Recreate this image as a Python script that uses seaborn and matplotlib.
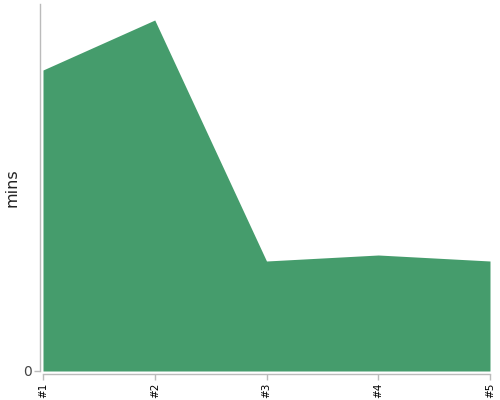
import numpy as np
import pandas as pd
import seaborn as sns
import matplotlib.pyplot as plt

labels = ["#1", "#2", "#3", "#4", "#5"]
mins = [301, 351, 110, 116, 110]

sns.set_theme(style="white")
plt.rcParams['font.family'] = ['DejaVu Sans']

df = pd.DataFrame({"run": labels, "mins": mins})
x = np.arange(len(labels))

fig = plt.figure(figsize=(5, 4), dpi=100)
ax = fig.add_axes([0.086, 0.0725, 0.894, 0.9175])
sns.lineplot(x=x, y=df["mins"], ax=ax, color="#459c6c", linewidth=0)
ax.fill_between(x, df["mins"], color="#459c6c", linewidth=0)

ax.set_xlim(0, len(labels) - 1)
ax.set_ylim(0, 367)
ax.set_xticks(x, labels)
ax.set_yticks([0], ["0"])
ax.set_ylabel("mins", fontsize=11.5, color="#222222")
ax.yaxis.set_label_coords(-0.052, 0.5)
ax.set_xlabel("")

for side in ["top", "right"]:
    ax.spines[side].set_visible(False)
for side in ["left", "bottom"]:
    ax.spines[side].set_color("#bbbbbb")
    ax.spines[side].set_linewidth(1)
    ax.spines[side].set_position(("outward", 2.2))
ax.tick_params(axis="both", which="both", length=4, width=1, color="#bbbbbb", pad=2,
               left=True, bottom=True)
ax.tick_params(axis="x", labelrotation=90, labelsize=7.5, labelcolor="#000000")
ax.tick_params(axis="y", labelsize=10, labelcolor="#444444")

fig.savefig("out.png", dpi=100)
